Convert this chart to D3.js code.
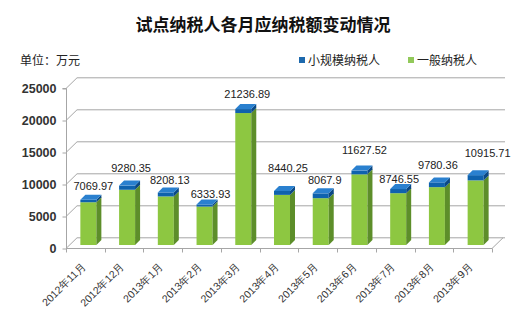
<!DOCTYPE html>
<html>
<head>
<meta charset="utf-8">
<script src="https://cdn.jsdelivr.net/npm/d3@7"></script>
<style>
  html, body { margin: 0; padding: 0; background: #fff; }
  svg { display: block; }
</style>
</head>
<body>
<svg id="chart" width="522" height="322"></svg>
<script>
// Monthly tax payable of pilot taxpayers (unit: 10k yuan)
const months = ["2012年11月", "2012年12月", "2013年1月", "2013年2月", "2013年3月", "2013年4月",
                "2013年5月", "2013年6月", "2013年7月", "2013年8月", "2013年9月"];
const totals = [7069.97, 9280.35, 8208.13, 6333.93, 21236.89, 8440.25, 8067.9, 11627.52, 8746.55, 9780.36, 10915.71];
const smallScale = [390, 650, 620, 330, 620, 610, 750, 590, 650, 740, 820];   // 小规模纳税人
const general = totals.map((t, i) => +(t - smallScale[i]).toFixed(2));      // 一般纳税人
const yTicks = [0, 5000, 10000, 15000, 20000, 25000];
const seriesNames = ["小规模纳税人", "一般纳税人"];

// Hand-placed offsets of the total labels above each bar [dx, dy]
const labelNudge = [[8, -14], [7, -18], [7, -12], [9, -10], [7, -15], [9, -23],
                    [7, -13], [8, -21], [4, -10], [4, -17], [15, -22]];

(function draw() {
  const svg = d3.select("#chart");
  const plotLeft = 66, plotRight = 492, plotBottom = 248, plotTop = 88;
  const wallDx = 11, wallDy = -10.7;     // depth of the 3-D box
  const barOffX = 3, barOffY = -3;       // bar front plane inside the box
  const barDepth = 5;                    // bar thickness in depth
  const barW = 16;

  const x = d3.scaleBand().domain(months).range([plotLeft, plotRight]).paddingInner(0).paddingOuter(0);
  const y = d3.scaleLinear().domain([0, 25000]).range([plotBottom, plotTop]);

  const gridColor = "#a6a6a6";
  const numFont = "'Liberation Sans', Arial, sans-serif";
  const cjkFont = "'Noto Sans CJK SC', sans-serif";

  // Title
  svg.append("text")
    .attr("x", 263).attr("y", 31)
    .attr("text-anchor", "middle")
    .style("font-family", cjkFont).style("font-weight", 700).style("font-size", "17px")
    .attr("fill", "#111")
    .text("试点纳税人各月应纳税额变动情况");

  // Unit
  svg.append("text")
    .attr("x", 20).attr("y", 64.5)
    .style("font-family", cjkFont).style("font-size", "12px").attr("fill", "#222")
    .text("单位：万元");

  // Legend
  const legendColors = ["#1d69ad", "#92c95a"];
  const legendX = [299, 408];
  seriesNames.forEach((name, i) => {
    svg.append("rect").attr("x", legendX[i]).attr("y", 57).attr("width", 6).attr("height", 6)
      .attr("fill", legendColors[i]);
    svg.append("text").attr("x", legendX[i] + 9).attr("y", 64.5)
      .style("font-family", cjkFont).style("font-size", "12px").attr("fill", "#222")
      .text(name);
  });

  // Back wall gridlines and left-wall diagonals
  const grid = svg.append("g").attr("stroke", gridColor).attr("stroke-width", 1).attr("fill", "none");
  yTicks.forEach(t => {
    const yy = Math.round(y(t)) + 0.5;
    grid.append("line").attr("x1", plotLeft).attr("y1", yy).attr("x2", plotLeft + wallDx).attr("y2", yy + wallDy);
    grid.append("line").attr("x1", plotLeft + wallDx).attr("y1", yy + wallDy)
      .attr("x2", plotRight + wallDx + 2).attr("y2", yy + wallDy);
  });
  // Right floor edge
  grid.append("line").attr("x1", plotRight).attr("y1", Math.round(y(0)) + 0.5)
    .attr("x2", plotRight + wallDx).attr("y2", Math.round(y(0)) + 0.5 + wallDy);

  // Y axis (front left edge)
  const yAxis = d3.axisLeft(y).tickValues(yTicks).tickSize(4).tickPadding(6).tickFormat(d3.format("d"));
  const gy = svg.append("g").attr("transform", `translate(${plotLeft + 0.5},0.5)`).call(yAxis);
  gy.select(".domain").attr("stroke", gridColor).attr("d", `M-4,${plotTop}H0V${plotBottom}`);
  gy.selectAll(".tick line").attr("stroke", gridColor);
  gy.selectAll(".tick text").style("font-family", numFont).style("font-size", "12.5px")
    .style("font-weight", 700).attr("fill", "#333");

  // X axis (front floor edge)
  const xAxis = d3.axisBottom(x).tickSize(0).tickFormat("");
  const gx = svg.append("g").attr("transform", `translate(0,${plotBottom + 0.5})`).call(xAxis);
  gx.select(".domain").attr("stroke", gridColor).attr("d", `M${plotLeft},0H${plotRight}`);
  const boundaries = months.map(m => x(m)).concat([plotRight]);
  gx.selectAll(".bnd").data(boundaries).enter().append("line")
    .attr("x1", d => Math.round(d) + 0.5).attr("x2", d => Math.round(d) + 0.5)
    .attr("y1", 0).attr("y2", 4).attr("stroke", gridColor);

  // Category labels, rotated
  svg.append("g").selectAll("text").data(months).enter().append("text")
    .attr("transform", d => `translate(${x(d) + x.bandwidth() / 2 + 1},267) rotate(-45)`)
    .attr("text-anchor", "end")
    .style("font-family", numFont).style("font-size", "10.5px").attr("fill", "#333")
    .text(d => d);

  // 3-D stacked bars
  const palette = {
    general: { front: "#8dc741", side: "#5d8e2a", top: "#a6d86a" },
    small:   { front: "#0f62ad", side: "#0b4884", top: "#2a80cf" }
  };

  function prism(g, x0, y0, y1, c, withTop) {
    const x1 = x0 + barW;
    g.append("rect").attr("x", x0).attr("y", y1).attr("width", barW).attr("height", Math.max(0, y0 - y1))
      .attr("fill", c.front);
    g.append("path")
      .attr("d", `M${x1},${y0}L${x1 + barDepth},${y0 - barDepth}L${x1 + barDepth},${y1 - barDepth}L${x1},${y1}Z`)
      .attr("fill", c.side);
    if (withTop) {
      g.append("path")
        .attr("d", `M${x0},${y1}L${x0 + barDepth},${y1 - barDepth}L${x1 + barDepth},${y1 - barDepth}L${x1},${y1}Z`)
        .attr("fill", c.top);
    }
  }

  const bars = svg.append("g");
  months.forEach((m, i) => {
    const g = bars.append("g");
    const x0 = x(m) + x.bandwidth() / 2 - barW / 2 + barOffX;
    const base = y(0) + barOffY;
    const yGen = y(general[i]) + barOffY;
    const yTot = y(general[i] + smallScale[i]) + barOffY;
    prism(g, x0, base, yGen, palette.general, false);
    prism(g, x0, yGen, yTot, palette.small, true);
  });

  // Total labels
  const fmt = v => String(+v.toFixed(2));
  svg.append("g").selectAll("text").data(months).enter().append("text")
    .attr("x", (d, i) => x(d) + x.bandwidth() / 2 + labelNudge[i][0])
    .attr("y", (d, i) => y(totals[i]) + barOffY + labelNudge[i][1] + 4)
    .attr("text-anchor", "middle")
    .style("font-family", numFont).style("font-size", "11px").attr("fill", "#222")
    .text((d, i) => fmt(general[i] + smallScale[i]));
})();
</script>
</body>
</html>
